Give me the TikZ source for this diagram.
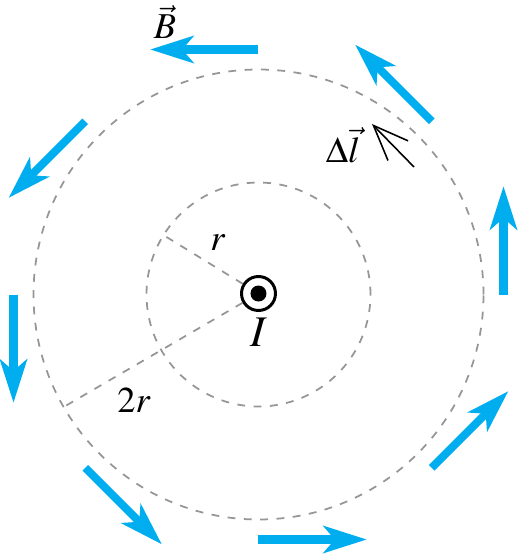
\documentclass[tikz,border=0pt]{standalone}
\usepackage{xcolor}
\usepackage{amsmath,amssymb}
\usepackage{mathptmx}
\usepackage{tikz}
\usetikzlibrary{positioning, arrows.meta}

\definecolor{fieldblue}{RGB}{0,174,239}
\definecolor{guidegray}{RGB}{150,150,150}

\begin{document}
\begin{tikzpicture}[
  x=0.02cm, y=0.02cm,
  font=\huge,
  guide/.style={draw=guidegray, line width=1pt, dash pattern=on 4.5pt off 4.8pt},
  bvec/.style={draw=fieldblue, line width=4.6pt,
    -{Stealth[length=25pt, width=16pt, inset=7pt, line width=0pt]}},
  dlvec/.style={draw=black, line width=0.9pt,
    -{Straight Barb[length=20pt, width=16pt]}},
  current/.style={circle, draw, line width=1.7pt, minimum size=0.68cm, inner sep=0pt,
    path picture={\fill (path picture bounding box.center) circle (0.16cm);}},
  lbl/.style={inner sep=0pt},
]
  \useasboundingbox (-258.5,-260.5) rectangle (260.5,294.5);

  \draw[guide] (0,0) circle (112);
  \draw[guide] (0,0) circle (225);

  \node[current] (I) at (0,1) {};
  \node[lbl, font=\Huge, below=0.12cm of I] (Ilab) {$I$};

  \coordinate (rend) at (148:112);
  \coordinate (tworend) at (210:225);
  \draw[guide] (I) -- (rend);
  \draw[guide] (I) -- (tworend);
  \node[lbl] (rlab) at (-40.5,51.5) {$r$};
  \node[lbl] (tworlab) at (-124.5,-105.5) {$2r$};

  \draw[bvec] (0:245) -- ++(90:108);
  \draw[bvec] (45:245) -- ++(135:108);
  \draw[bvec] (90:245) -- ++(180:108);
  \draw[bvec] (135:245) -- ++(225:108);
  \draw[bvec] (180:245) -- ++(270:108);
  \draw[bvec] (225:245) -- ++(315:108);
  \draw[bvec] (270:245) -- ++(0:108);
  \draw[bvec] (315:245) -- ++(45:108);

  \node[lbl] (Blab) at (-93.5,272.5) {$\vec{B}$};
  \coordinate (dltail) at (155.5,127.5);
  \coordinate (dlhead) at (113.5,170.5);
  \draw[dlvec] (dltail) -- (dlhead);
  \node[lbl] (dllab) at (84.5,149.5) {$\Delta\vec{l}$};
\end{tikzpicture}
\end{document}
